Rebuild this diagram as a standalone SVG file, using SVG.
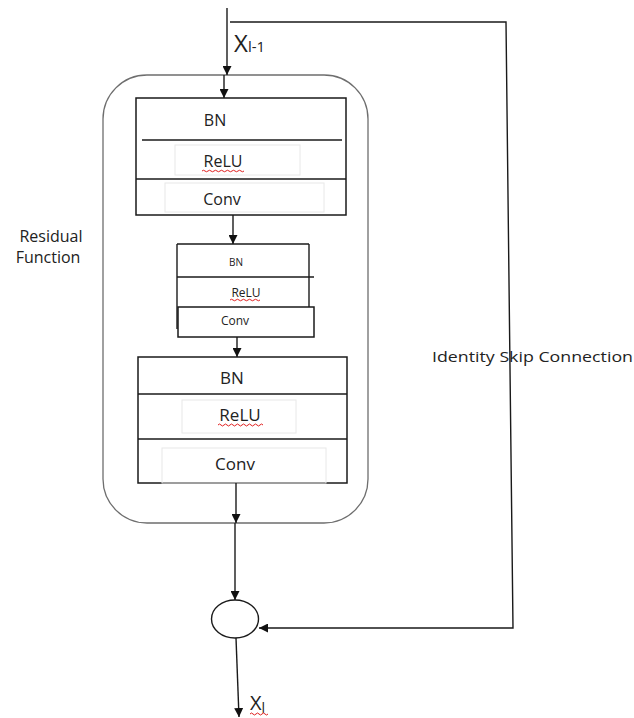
<svg xmlns="http://www.w3.org/2000/svg" width="634" height="718" viewBox="0 0 634 718">
<defs>
<marker id="ah" viewBox="0 0 10 10" refX="10" refY="5" markerWidth="9" markerHeight="9" markerUnits="userSpaceOnUse" orient="auto">
<path d="M0,0 L10,5 L0,10 Z" fill="#111"/>
</marker>
</defs>
<style>
.ln{stroke:#1a1a1a;stroke-width:1.4;fill:none}
.bx{stroke:#1a1a1a;stroke-width:1.5;fill:#fff}
.fr{stroke:#e8e8e8;stroke-width:1;fill:none}
.t{font-family:"Open Sans","Liberation Sans",sans-serif;fill:#222}
.sq{stroke:#e02020;stroke-width:1;fill:none}
</style>
<rect width="634" height="718" fill="#fff"/>
<g id="residual-container">
<rect x="103" y="75" width="265" height="448" rx="44" ry="44" fill="none" stroke="#6e6e6e" stroke-width="1.3"/>
<text class="t" x="51" y="242" font-size="16" text-anchor="middle">Residual</text>
<text class="t" x="48" y="263" font-size="16" text-anchor="middle">Function</text>
</g>
<g id="block1">
<rect class="bx" x="136" y="98" width="210" height="117"/>
<line class="ln" x1="142" y1="140" x2="342" y2="140"/>
<line class="ln" x1="136" y1="179" x2="346" y2="179"/>
<rect class="fr" x="175" y="145" width="125" height="30"/>
<rect class="fr" x="165" y="183" width="159" height="29"/>
<text class="t" x="215" y="126" font-size="16" text-anchor="middle">BN</text>
<text class="t" x="223" y="167" font-size="16" text-anchor="middle">ReLU</text>
<path class="sq" d="M202,171 q1.5,-1.5 3,0 t3,0 t3,0 t3,0 t3,0 t3,0 t3,0 t3,0 t3,0 t3,0 t3,0 t3,0 t3,0 t3,0"/>
<text class="t" x="222" y="205" font-size="16" text-anchor="middle">Conv</text>
</g>
<g id="block2">
<line class="ln" x1="177" y1="244" x2="309" y2="244"/>
<line class="ln" x1="177" y1="244" x2="177" y2="329"/>
<line class="ln" x1="309" y1="244" x2="309" y2="307"/>
<line class="ln" x1="177" y1="277" x2="314" y2="277"/>
<rect class="bx" x="178" y="307" width="136" height="30"/>
<text class="t" x="236" y="266" font-size="10" text-anchor="middle">BN</text>
<text class="t" x="246" y="297" font-size="12" text-anchor="middle">ReLU</text>
<path class="sq" d="M230,300 q1.5,-1.5 3,0 t3,0 t3,0 t3,0 t3,0 t3,0 t3,0 t3,0 t3,0 t3,0"/>
<text class="t" x="235" y="325" font-size="12" text-anchor="middle">Conv</text>
</g>
<g id="block3">
<rect class="bx" x="138" y="357" width="209" height="126"/>
<line class="ln" x1="138" y1="394" x2="347" y2="394"/>
<line class="ln" x1="138" y1="439" x2="347" y2="439"/>
<rect class="fr" x="182" y="400" width="114" height="33"/>
<rect class="fr" x="162" y="448" width="164" height="35"/>
<text class="t" x="232" y="384" font-size="17" text-anchor="middle">BN</text>
<text class="t" x="240" y="421" font-size="17" text-anchor="middle">ReLU</text>
<path class="sq" d="M218,425 q1.5,-2 3,0 t3,0 t3,0 t3,0 t3,0 t3,0 t3,0 t3,0 t3,0 t3,0 t3,0 t3,0 t3,0 t3,0 t3,0"/>
<text class="t" x="235" y="470" font-size="17" text-anchor="middle">Conv</text>
</g>
<g id="sum">
<ellipse cx="235" cy="619" rx="23.5" ry="19" fill="#fff" stroke="#1a1a1a" stroke-width="1.4"/>
</g>
<g id="labels">
<text class="t" x="234" y="52" font-size="24">X<tspan font-size="15">l-1</tspan></text>
<text class="t" x="250" y="710" font-size="20">X<tspan font-size="14" dy="3">l</tspan></text>
<path class="sq" d="M250,714 q1.5,-2 3,0 t3,0 t3,0 t3,0 t3,0 t3,0"/>
<text class="t" x="432" y="362" font-size="15" textLength="201" lengthAdjust="spacingAndGlyphs">Identity Skip Connection</text>
</g>
<g id="connectors">
<line class="ln" x1="227" y1="8" x2="227" y2="75" marker-end="url(#ah)"/>
<line class="ln" x1="224" y1="75" x2="224" y2="98" marker-end="url(#ah)"/>
<line class="ln" x1="233" y1="215" x2="233" y2="244" marker-end="url(#ah)"/>
<line class="ln" x1="237" y1="337" x2="237" y2="357" marker-end="url(#ah)"/>
<line class="ln" x1="236" y1="483" x2="236" y2="523" marker-end="url(#ah)"/>
<line class="ln" x1="235" y1="523" x2="235" y2="600" marker-end="url(#ah)"/>
<line class="ln" x1="236" y1="638" x2="239" y2="717" marker-end="url(#ah)"/>
<polyline class="ln" points="230,22 506,22 513,628 259,628" marker-end="url(#ah)"/>
</g>
</svg>
